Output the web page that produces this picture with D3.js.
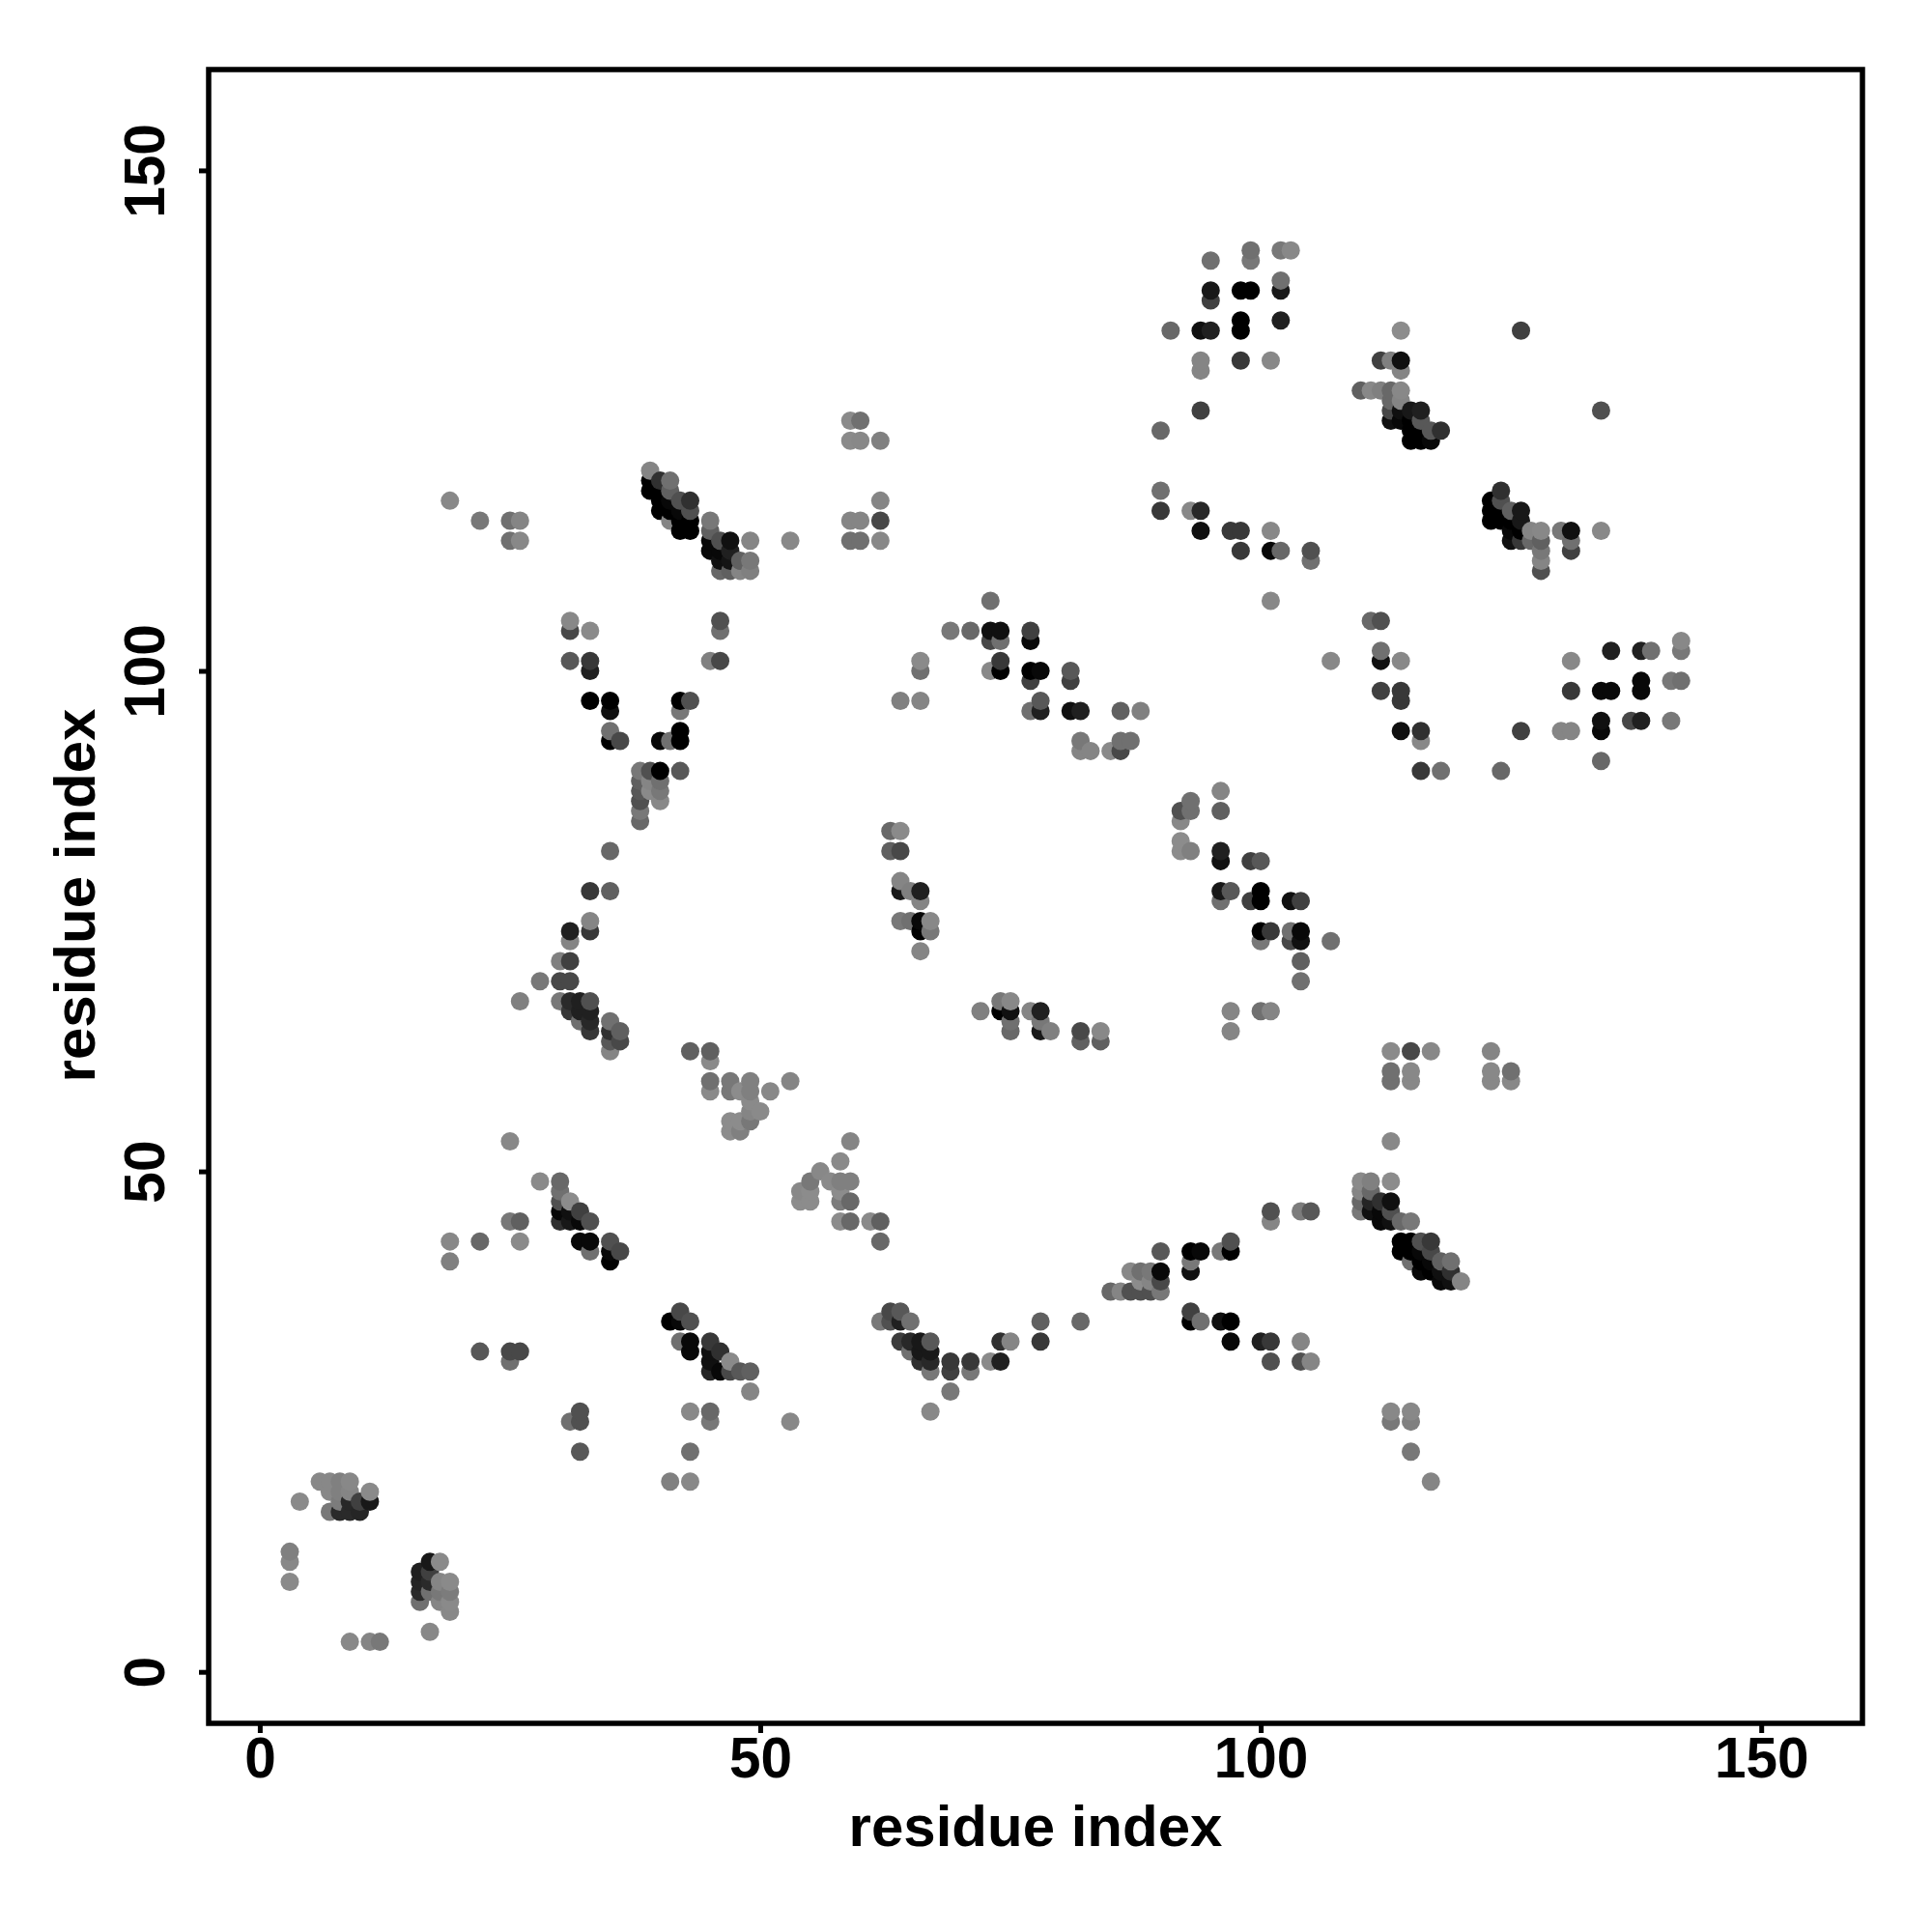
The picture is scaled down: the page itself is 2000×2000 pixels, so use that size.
<!DOCTYPE html>
<html><head><meta charset="utf-8">
<script src="https://cdn.jsdelivr.net/npm/d3@7"></script>
<style>html,body{margin:0;padding:0;background:#fff}svg{display:block}
text{font-family:"Liberation Sans",Arial,sans-serif;font-weight:700;fill:#000}</style>
</head><body><div id="chart"></div>
<script>
// [residue i, residue j, contact score]
const contactsNearCorner = [
[3,12,12],[3,11,4],[3,9,2],[4,17,2],[6,19,4],[7,19,4],[8,19,12],[9,19,4],[7,18,4],[8,18,12],[9,18,7],[11,18,2],
[8,17,16],[9,17,100],[10,17,76],[11,17,116],[7,16,20],[8,16,98],[9,16,98],[10,16,103],[9,3,4],[11,3,7],[12,3,20],
[17,4,4],[17,11,116],[18,11,2],[16,10,108],[17,10,76],[16,9,103],[17,9,98],[18,9,7],[19,9,2],[16,8,98],[17,8,28],
[18,8,20],[19,8,16],[16,7,28],[18,7,7],[19,7,2],[19,6,4]];
const contactsLowerLeft = [
[25,53,4],[28,49,2],[30,49,36],[30,48,28],[30,47,60],[31,47,0],[32,46,76],[30,46,132],[31,46,124],[30,45,92],[31,45,116],
[32,45,132],[33,45,60],[25,45,20],[26,45,44],[19,43,4],[22,43,36],[26,43,2],[32,43,132],[33,43,132],[35,43,60],[33,42,28],
[35,42,132],[36,42,68],[35,41,140],[19,41,12],[42,36,68],[41,35,140],[42,35,132],[43,35,60],[42,33,28],[43,33,132],[43,32,132],
[45,33,84],[46,32,92],[45,32,124],[45,31,124],[47,31,2],[45,30,103],[46,30,132],[47,30,68],[48,30,52],[49,30,44],[49,28,7],
[22,32,52],[25,32,68],[26,32,68],[25,31,28],[32,26,60],[31,25,28],[32,25,60],[32,22,52],[43,26,4],[45,26,36],[45,25,20],
[53,25,4],[43,22,28],[41,19,12],[43,19,4]];
const contactsLowerMiddle = [
[43,62,44],[45,62,44],[45,61,2],[45,59,28],[45,58,2],[47,59,20],[47,58,20],[48,58,0],[49,59,12],[49,58,12],[49,57,2],[49,56,7],
[50,56,2],[49,55,20],[51,58,4],[53,59,7],[47,55,0],[48,55,0],[47,54,0],[48,54,12],[59,53,7],[58,51,2],[56,50,4],[55,49,20],
[57,49,2],[58,49,12],[59,49,12],[54,48,4],[55,48,0],[58,48,0],[54,47,0],[55,47,0],[58,47,16],[59,47,36],[58,45,0],[59,45,36],
[61,45,2],[62,45,44],[62,43,36],
[62,35,20],[63,36,68],[64,36,52],[63,35,60],[64,35,108],[65,35,28],[64,33,80],[65,33,100],[66,33,116],[67,33,52],
[65,32,28],[66,32,116],[67,32,116],[66,31,92],[67,31,100],[67,30,20],[69,31,84],[69,30,76],[71,31,84],[71,30,20],
[73,31,2],[74,31,108],[74,33,92],[75,33,7],[78,35,44],[78,33,84],[82,35,36],[69,28,20],[67,26,4]];
const contactsLowerRight = [
[85,38,36],[86,38,7],[87,38,60],[88,38,60],[89,38,60],[90,38,20],[87,40,4],[88,40,28],[89,40,20],[90,40,132],[88,39,0],
[89,39,7],[90,39,68],[90,42,52],[93,42,140],[94,42,132],[93,41,20],[93,40,124],[96,42,20],[97,42,140],[97,43,60],
[93,36,76],[93,35,140],[94,35,28],[96,35,124],[97,35,140],[97,33,132],[100,33,108],[101,33,84],[104,33,7],[101,31,60],
[104,31,60],[105,31,7],[101,46,60],[101,45,7],[104,46,16],[105,46,52],
[113,62,2],[115,62,68],[117,62,4],[113,60,28],[113,59,28],[115,60,4],[115,59,4],[123,62,7],[123,60,4],[123,59,4],[125,60,28],[125,59,4],
[113,53,4],[113,49,0],[110,49,2],[111,49,12],[110,48,7],[111,48,36],[110,47,36],[111,47,103],[112,47,92],[113,47,124],
[110,46,20],[111,46,124],[112,46,132],[113,46,60],[112,45,132],[113,45,124],[114,45,36],[115,45,20],
[114,43,140],[115,43,140],[116,43,60],[117,43,84],[114,42,140],[115,42,140],[116,42,132],[117,42,68],[115,41,28],[116,41,140],
[117,41,132],[118,41,44],[119,41,28],[116,40,132],[117,40,140],[118,40,124],[119,40,92],[118,39,132],[119,39,124],[120,39,7],
[113,26,4],[113,25,20],[115,26,4],[115,25,12],[115,22,20],[117,19,7]];
const contactsMiddleLeft = [
[31,105,4],[31,104,68],[33,104,2],[31,101,52],[33,101,84],[33,100,108],[33,97,140],[35,97,140],[35,96,124],[35,94,28],[35,93,140],
[36,93,68],[46,105,60],[46,104,28],[45,101,12],[46,101,68],[42,97,140],[43,97,60],[42,96,20],[42,94,140],[42,93,140],[40,93,132],
[41,93,28],[38,90,20],[39,90,60],[40,90,140],[42,90,52],[38,89,44],[39,89,7],[40,89,28],[38,88,52],[39,88,2],[40,88,20],[38,87,60],
[40,87,4],[38,86,20],[38,85,36],[35,82,36],[33,78,84],[35,78,44],[33,75,7],[33,74,84],[31,74,108],[31,73,7],[30,71,12],[31,71,76],
[28,69,20],[30,69,68],[31,69,68],[26,67,12],[30,67,20],[31,67,98],[32,67,108],[33,67,60],[31,66,84],[32,66,108],[33,66,108],
[32,65,28],[33,65,100],[33,64,84],[35,65,28],[36,64,44],[35,64,92],[36,63,68],[35,63,52],[35,62,7]];
const contactsMiddle = [
[63,84,36],[64,84,2],[63,82,44],[64,82,68],[64,79,7],[64,78,116],[65,78,12],[66,78,108],[66,77,7],[64,75,20],[65,75,28],[66,75,132],
[67,75,4],[66,74,140],[67,74,20],[66,72,7],
[73,107,28],[69,104,20],[71,104,36],[73,104,124],[74,104,124],[73,103,68],[74,103,28],[77,104,76],[77,103,132],[74,101,84],[74,100,140],
[73,100,4],[66,101,2],[66,100,28],[64,97,12],[66,97,7],[77,100,140],[78,100,132],[77,99,76],[81,100,52],[81,99,76],[78,97,52],[77,96,28],
[78,96,108],[81,96,124],[82,96,108],[86,96,44],[88,96,12],[82,93,20],[82,92,7],[83,92,7],[85,92,2],[86,92,68],[86,93,28],[87,93,28],
[93,87,28],[93,86,28],[92,86,60],[92,85,4],[96,88,7],[96,86,44],[92,83,0],[92,82,0],[93,82,12],[96,82,108],[96,81,124],[99,81,76],[100,81,52],
[96,78,116],[97,78,52],[96,77,28],[100,78,140],[100,77,140],[99,77,76],[103,77,124],[104,77,76],[100,74,140],[101,74,84],[100,73,20],
[103,74,28],[104,74,132],[103,73,68],[104,73,124],[107,73,28],[104,71,44],[104,69,28],[97,66,7],[97,64,7],[100,66,28],[101,66,7],
[72,66,12],[74,67,20],[75,67,4],[74,66,140],[75,66,124],[75,65,28],[75,64,36],[77,66,7],[78,66,108],[78,65,20],[78,64,116],[79,64,12],
[82,64,68],[82,63,44],[84,64,4],[84,63,44]];
const contactsUpperLeft = [
[19,117,4],[22,115,20],[25,115,28],[26,115,7],[25,113,28],[26,113,4],[39,120,7],[39,119,140],[39,118,140],[40,119,92],[41,119,28],
[40,118,140],[41,118,44],[40,117,140],[41,117,132],[42,117,60],[43,117,92],[40,116,140],[41,116,140],[42,116,132],[43,116,60],
[41,115,7],[42,115,140],[43,115,140],[42,114,140],[43,114,140],[45,115,20],[45,114,44],[45,113,132],[46,113,60],[47,113,124],
[45,112,132],[46,112,132],[47,112,108],[46,111,124],[47,111,120],[48,111,44],[49,111,20],[46,110,36],[47,110,44],[48,110,7],[49,110,12],
[49,113,7],[53,113,4],[59,125,2],[60,125,28],[59,123,2],[60,123,4],[62,123,12],[62,117,7],[59,115,7],[60,115,7],[62,115,68],
[59,113,28],[60,113,28],[62,113,4]];
const contactsUpperRight = [
[95,141,28],[99,142,28],[99,141,20],[102,142,20],[103,142,4],[102,139,28],[102,138,116],[95,138,116],[95,137,76],[98,138,140],[99,138,140],
[98,135,140],[98,134,140],[102,135,108],[91,134,36],[94,134,124],[95,134,108],[94,131,7],[94,130,7],[98,131,84],[101,131,4],[94,126,76],
[90,124,36],[90,118,28],[90,116,84],[93,116,4],[94,116,100],[94,114,124],[97,114,84],[98,114,84],[101,114,4],[98,112,84],[101,112,132],
[102,112,36],[105,112,60],[105,111,28],[101,107,4],[114,134,0],[126,134,76],[112,131,76],[113,131,12],[114,131,124],[114,130,7],
[110,128,44],[111,128,4],[112,128,12],[113,128,36],[114,128,4],[113,127,36],[114,127,7],[113,126,68],[114,126,124],[115,126,116],[116,126,108],
[113,125,124],[114,125,132],[115,125,140],[116,125,52],[115,124,140],[116,124,140],[117,124,52],[118,124,92],[115,123,140],[116,123,140],[117,123,132],
[124,118,92],[123,117,140],[124,117,60],[123,116,140],[124,116,140],[125,116,44],[126,116,116],[123,115,140],[124,115,140],[125,115,140],[126,115,116],
[125,114,132],[126,114,140],[127,114,7],[128,114,4],[125,113,124],[126,113,84],[127,113,36],[128,113,44],[128,112,20],[128,111,7],[128,110,60],
[130,114,20],[131,114,124],[131,113,28],[131,112,76],[134,114,4],[134,126,60],
[111,105,36],[112,105,60],[112,102,28],[112,101,124],[114,101,4],[107,101,4],[112,98,76],[114,98,84],[114,97,84],[114,94,124],[116,94,92],[116,93,4],
[116,90,84],[118,90,28],[124,90,36],[126,94,76],[130,94,7],[131,94,7],[131,101,4],[131,98,84],[134,98,132],[135,98,132],[135,102,108],[138,102,108],
[139,102,28],[142,103,4],[142,102,20],[138,99,132],[138,98,132],[141,99,20],[142,99,28],[134,95,124],[134,94,132],[137,95,68],[138,95,108],[141,95,20],[134,91,36]];
const tickValues = [0,50,100,150];
const xLabel = "residue index";
const yLabel = "residue index";

const contacts = [...contactsNearCorner,...contactsLowerLeft,...contactsLowerMiddle,...contactsLowerRight,
  ...contactsMiddleLeft,...contactsMiddle,...contactsUpperLeft,...contactsUpperRight]
  .slice().sort((a,b)=>d3.ascending(a[0],b[0])||d3.ascending(a[1],b[1]));

const W=2000,H=2000,L=216,R=1928,T=72,B=1784;
const x=d3.scaleLinear().domain([0,150]).range([268.9,1823.2]);
const y=d3.scaleLinear().domain([0,150]).range([1730.7,176.4]);
const tone=d3.scaleLinear().domain([0,140]).range(["#8c8c8c","#000000"]);

const svg=d3.select("#chart").append("svg").attr("width",W).attr("height",H);
svg.append("g").selectAll("circle").data(contacts).join("circle")
  .attr("cx",d=>x(d[0])).attr("cy",d=>y(d[1])).attr("r",9.5).attr("fill",d=>tone(d[2]));
svg.append("rect").attr("x",L).attr("y",T).attr("width",R-L).attr("height",B-T)
  .attr("fill","none").attr("stroke","#000").attr("stroke-width",5.5);

const gx=svg.append("g").attr("transform",`translate(0,${B})`)
  .call(d3.axisBottom(x).tickValues(tickValues).tickSize(10).tickPadding(6));
const gy=svg.append("g").attr("transform",`translate(${L},0)`)
  .call(d3.axisLeft(y).tickValues(tickValues).tickSize(10));
[gx,gy].forEach(g=>{g.select(".domain").remove();
  g.selectAll("line").attr("stroke","#000").attr("stroke-width",5);});
gx.selectAll("text").attr("font-size",58.5).attr("dy",null).attr("y",56);
gy.selectAll("text").attr("font-size",58.5).attr("text-anchor","middle").attr("dy",null).attr("x",null)
  .attr("transform",d=>"translate(-46,0) rotate(-90)");
svg.append("text").attr("x",1072).attr("y",1911).attr("text-anchor","middle").attr("font-size",60).text(xLabel);
svg.append("text").attr("transform","translate(98,927) rotate(-90)").attr("text-anchor","middle").attr("font-size",60).text(yLabel);
</script></body></html>
